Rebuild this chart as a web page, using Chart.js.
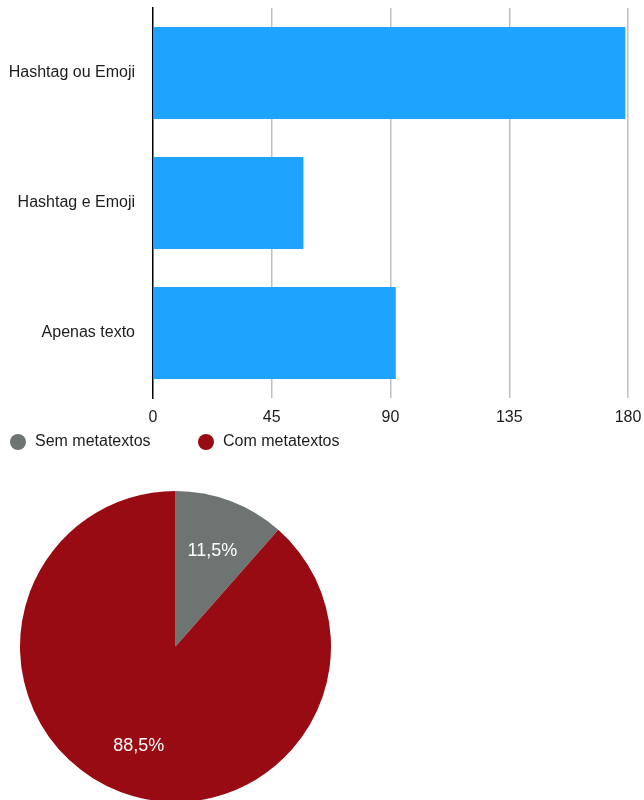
<!DOCTYPE html>
<html>
<head>
<meta charset="utf-8">
<script src="https://cdn.jsdelivr.net/npm/chart.js@4.4.1/dist/chart.umd.min.js"></script>
<style>
  body { margin: 0; background: #fff; width: 644px; height: 800px; overflow: hidden; position: relative; }
  #bar-wrap { position: absolute; left: 0; top: 0; width: 644px; height: 430px; }
  #pie-wrap { position: absolute; left: 0; top: 426px; width: 352px; height: 376px; }
</style>
</head>
<body>
<div id="bar-wrap"><canvas id="bar-chart"></canvas></div>
<div id="pie-wrap"><canvas id="pie-chart"></canvas></div>
<script>
// dados
const barLabels = ['Hashtag ou Emoji', 'Hashtag e Emoji', 'Apenas texto'];
const barValues = [179, 57, 92];
const xTicks = [0, 45, 90, 135, 180];

const pieLabels = ['Sem metatextos', 'Com metatextos'];
const pieValues = [11.5, 88.5];
const pieColors = ['#6e7471', '#980b12'];

const fontFamily = '"Liberation Sans", Arial, Helvetica, sans-serif';
const textColor = '#1c1c1c';

// zera o padding automático das escalas, para o layout ficar fixo
function noScalePadding(scale) {
  scale.paddingTop = 0;
  scale.paddingBottom = 0;
  scale.paddingLeft = 0;
  scale.paddingRight = 0;
}

// gráfico de barras
new Chart(document.getElementById('bar-chart'), {
  type: 'bar',
  data: {
    labels: barLabels,
    datasets: [{
      data: barValues,
      backgroundColor: '#1ea3fe',
      borderWidth: 0,
      categoryPercentage: 1,
      barPercentage: 0.708
    }]
  },
  options: {
    indexAxis: 'y',
    responsive: true,
    maintainAspectRatio: false,
    animation: false,
    layout: { padding: { top: 8, right: 16, left: 0, bottom: 0 } },
    plugins: { legend: { display: false }, tooltip: { enabled: false } },
    scales: {
      x: {
        min: 0,
        max: 180,
        afterBuildTicks: (scale) => { scale.ticks = xTicks.map(v => ({ value: v })); },
        afterFit: (scale) => { scale.height = 32; noScalePadding(scale); },
        border: { display: false },
        grid: {
          drawTicks: false,
          color: (ctx) => ctx.tick && ctx.tick.value === 0 ? 'rgba(0,0,0,0)' : '#c0c0c0',
          lineWidth: 1.5
        },
        ticks: {
          padding: 10,
          color: textColor,
          font: { family: fontFamily, size: 16 },
          maxRotation: 0
        }
      },
      y: {
        afterFit: (scale) => { scale.width = 153; noScalePadding(scale); },
        border: { display: true, color: '#000', width: 1.5 },
        grid: { display: false, drawTicks: false },
        ticks: {
          padding: 18,
          color: textColor,
          font: { family: fontFamily, size: 16 }
        }
      }
    }
  }
});

// legenda e rótulos da pizza
const pieExtras = {
  id: 'pieExtras',
  afterDraw(chart) {
    const ctx = chart.ctx;
    ctx.save();
    ctx.textBaseline = 'middle';
    // legenda
    ctx.font = '16px ' + fontFamily;
    const legendX = [18, 206];
    chart.data.labels.forEach((lab, i) => {
      ctx.fillStyle = pieColors[i];
      ctx.beginPath();
      ctx.arc(legendX[i], 16, 8, 0, Math.PI * 2);
      ctx.fill();
      ctx.fillStyle = textColor;
      ctx.textAlign = 'left';
      ctx.fillText(lab, legendX[i] + 17, 16);
    });
    // percentuais
    ctx.font = '18px ' + fontFamily;
    const meta = chart.getDatasetMeta(0);
    ctx.fillStyle = '#fff';
    ctx.textAlign = 'center';
    meta.data.forEach((arc, i) => {
      const p = arc.getProps(['x', 'y', 'startAngle', 'endAngle', 'outerRadius']);
      const mid = (p.startAngle + p.endAngle) / 2;
      const r = p.outerRadius * 0.67;
      const txt = pieValues[i].toFixed(1).replace('.', ',') + '%';
      ctx.fillText(txt, p.x + Math.cos(mid) * r, p.y + Math.sin(mid) * r + 2);
    });
    ctx.restore();
  }
};

new Chart(document.getElementById('pie-chart'), {
  type: 'pie',
  data: {
    labels: pieLabels,
    datasets: [{
      data: pieValues,
      backgroundColor: pieColors,
      borderWidth: 0
    }]
  },
  options: {
    responsive: true,
    maintainAspectRatio: false,
    animation: false,
    layout: { padding: { top: 65, left: 20, right: 21, bottom: 0 } },
    plugins: { legend: { display: false }, tooltip: { enabled: false } }
  },
  plugins: [pieExtras]
});
</script>
</body>
</html>
